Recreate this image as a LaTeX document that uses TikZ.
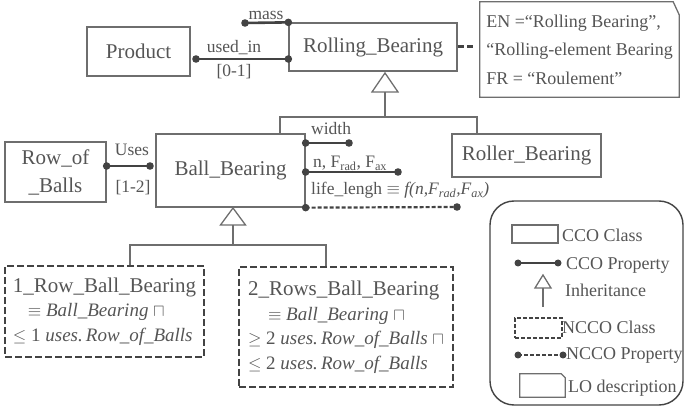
\documentclass[tikz,border=0pt]{standalone}
\usepackage{fontspec}
\setmainfont{Liberation Serif}
\definecolor{ink}{HTML}{555555}
\definecolor{frame}{HTML}{6E6E6E}
\definecolor{propc}{HTML}{434343}

\begin{document}
\begin{tikzpicture}[x=1pt,y=-1pt,
  every node/.style={text=ink, inner sep=0pt},
  cls/.style={draw=frame, line width=1.3pt, align=center,
    font=\fontsize{21}{28}\selectfont},
  ncls/.style={draw=propc, line width=2.6pt, dash pattern=on 7pt off 3pt,
    align=left, font=\fontsize{19}{24.5}\selectfont},
  lbl/.style={font=\fontsize{17.5}{20}\selectfont},
  lgtxt/.style={font=\fontsize{18}{20}\selectfont, anchor=base west},
  prop/.style={draw=propc, line width=2.6pt},
  nprop/.style={draw=propc, line width=2.2pt, dash pattern=on 4pt off 2pt},
  inh/.style={draw=frame, line width=1.3pt},
  dotr/.style={fill=propc},
]
\useasboundingbox (0,0) rectangle (689,406);

% ---------- classes ----------
\node[cls, minimum width=103pt, minimum height=49pt] (product) at (138.5,51.5) {Product};
\node[cls, minimum width=168pt, minimum height=48pt] (rolling) at (373,47) {Rolling\_Bearing};
\node[cls, minimum width=149pt, minimum height=73pt] (ball) at (230.5,170.5) {Ball\_Bearing};
\node[cls, minimum width=101pt, minimum height=60pt] (row) at (55.5,172) {Row\_of\\\_Balls};
\node[cls, minimum width=149pt, minimum height=43pt] (roller) at (526.5,155.5) {Roller\_Bearing};

% ---------- LO description note ----------
\node[minimum width=199pt, minimum height=95pt, align=left,
      font=\fontsize{18}{28.5}\selectfont] (note) at (579.5,49.5)
  {EN =“Rolling Bearing”,\\“Rolling-element Bearing\\FR = “Roulement”};
\draw[frame, line width=1.3pt] (note.north west) -- ([xshift=-6pt]note.north east)
  -- ([yshift=-13pt]note.north east) -- (note.south east) -- (note.south west) -- cycle;
\draw[propc, line width=3pt, dash pattern=on 6pt off 3.5pt]
  (rolling.east) -- ([xshift=-6pt]rolling.east -| note.west);

% ---------- properties of Rolling_Bearing ----------
\coordinate (massEnd) at (245,23);
\draw[prop] (massEnd) -- (rolling.north west);
\fill[dotr] (massEnd) circle[radius=3.8pt] (rolling.north west) circle[radius=3.8pt];
\node[lbl, anchor=base] (massL) at (266,20) {mass};

\coordinate (usedEnd) at (196,59);
\draw[prop] (usedEnd) -- (usedEnd -| rolling.west);
\fill[dotr] (usedEnd) circle[radius=3.8pt] (usedEnd -| rolling.west) circle[radius=3.8pt];
\node[lbl, anchor=base] (usedL) at (234,53) {used\_in};
\node[lbl, anchor=base] (usedM) at (234,77) {[0-1]};

% ---------- Uses ----------
\coordinate (usesEnd) at (150,166);
\draw[prop] (row.east |- usesEnd) -- (usesEnd);
\fill[dotr] (row.east |- usesEnd) circle[radius=3.8pt] (usesEnd) circle[radius=3.8pt];
\node[lbl, anchor=base] (usesL) at (132,156) {Uses};
\node[lbl, anchor=base] (usesM) at (133,193) {[1-2]};

% ---------- properties of Ball_Bearing ----------
\coordinate (wEnd) at (349,143);
\coordinate (nEnd) at (398,172);
\coordinate (lEnd) at (457,207);
\draw[prop] (wEnd -| ball.east) -- (wEnd);
\draw[prop] (nEnd -| ball.east) -- (nEnd);
\draw[nprop] (ball.south east) -- (lEnd);
\fill[dotr] (wEnd -| ball.east) circle[radius=3.8pt] (wEnd) circle[radius=3.8pt]
  (nEnd -| ball.east) circle[radius=3.8pt] (nEnd) circle[radius=3.8pt]
  (ball.south east) circle[radius=3.8pt] (lEnd) circle[radius=3.8pt];
\node[lbl, anchor=base west] (wL) at (311,135) {width};
\node[lbl, anchor=base west] (nL) at (313,168) {n, F\textsubscript{rad}, F\textsubscript{ax}};
\node[lbl, anchor=base west] (lL) at (311,195)
  {life\_lengh $\equiv$ \textit{f(n,F\textsubscript{rad},F\textsubscript{ax})}};

% ---------- inheritance from Rolling_Bearing ----------
\coordinate (triA) at (385,73);
\coordinate (barAL) at (280,117);
\coordinate (barAR) at (477,117);
\draw[inh] (triA) -- ++(13,19) -- ++(-26,0) -- cycle;
\draw[inh] ([yshift=-19pt]triA) -- (triA |- barAL);
\draw[inh] (barAL |- ball.north) -- (barAL) -- (barAR) -- (barAR |- roller.north);

% ---------- NCCO classes ----------
\node[ncls, minimum width=199pt, minimum height=91pt] (one) at (104.5,311.5)
  {{\fontsize{21}{24.5}\selectfont 1\_Row\_Ball\_Bearing}\\
   \hspace*{15pt}$\equiv$ \textit{Ball\_Bearing} $\sqcap$\\
   $\leq$ 1 \textit{uses.\,Row\_of\_Balls}};
\node[ncls, minimum width=214pt, minimum height=120pt] (two) at (346,327)
  {{\fontsize{21}{24.5}\selectfont 2\_Rows\_Ball\_Bearing}\\
   \hspace*{20pt}$\equiv$ \textit{Ball\_Bearing} $\sqcap$\\
   $\geq$ 2 \textit{uses.\,Row\_of\_Balls} $\sqcap$\\
   $\leq$ 2 \textit{uses.\,Row\_of\_Balls}};

% ---------- inheritance from Ball_Bearing ----------
\coordinate (triB) at (233,208);
\coordinate (barBL) at (130,245);
\coordinate (barBR) at (326,245);
\draw[inh] (triB) -- ++(12.5,17) -- ++(-25,0) -- cycle;
\draw[inh] ([yshift=-17pt]triB) -- (triB |- barBL);
\draw[inh] (barBL |- one.north) -- (barBL) -- (barBR) -- (barBR |- two.north);

% ---------- legend ----------
\node[draw=propc, line width=1.4pt, rounded corners=24pt,
      minimum width=193pt, minimum height=204pt] (legend) at (586.5,303) {};

\node[draw=frame, line width=1.2pt, minimum width=46pt, minimum height=18pt] (lgCls) at (535,234) {};
\node[lgtxt] (lgClsT) at (562,242) {CCO Class};

\coordinate (lgPa) at (518,263);
\coordinate (lgPb) at (558,263);
\draw[prop] (lgPa) -- (lgPb);
\fill[dotr] (lgPa) circle[radius=3.5pt] (lgPb) circle[radius=3.5pt];
\node[lgtxt] (lgPT) at (566,270) {CCO Property};

\coordinate (lgTri) at (543,275);
\draw[inh] (lgTri) -- ++(8,13) -- ++(-16,0) -- cycle;
\draw[inh] ([yshift=-13pt]lgTri) -- ++(0,19);
\node[lgtxt] (lgTriT) at (565,297) {Inheritance};

\node[draw=propc, line width=2.2pt, dash pattern=on 4pt off 2pt,
      minimum width=47pt, minimum height=20pt] (lgN) at (538.5,328) {};
\node[lgtxt] (lgNT) at (562,334) {NCCO Class};

\coordinate (lgQa) at (518,355);
\coordinate (lgQb) at (563,355);
\draw[nprop] (lgQa) -- (lgQb);
\fill[dotr] (lgQa) circle[radius=3.5pt] (lgQb) circle[radius=3.5pt];
\node[lgtxt] (lgQT) at (566,360) {NCCO Property};

\node[minimum width=45pt, minimum height=23pt] (lgLO) at (542.5,385.5) {};
\draw[frame, line width=1.2pt] (lgLO.north west) -- ([xshift=-4pt]lgLO.north east)
  -- ([yshift=-4pt]lgLO.north east) -- (lgLO.south east) -- (lgLO.south west) -- cycle;
\node[lgtxt] (lgLOT) at (568,393) {LO description};
\end{tikzpicture}
\end{document}
